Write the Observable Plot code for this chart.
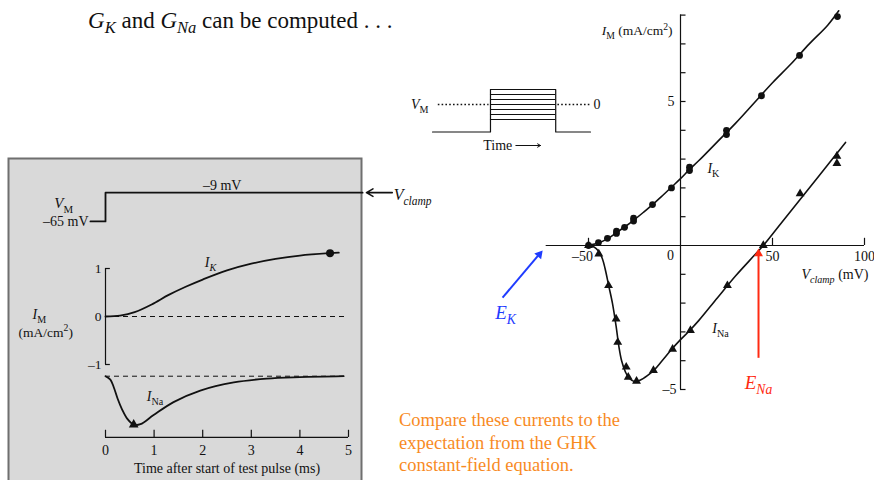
<!DOCTYPE html>
<html>
<head>
<meta charset="utf-8">
<script src="https://cdn.jsdelivr.net/npm/d3@7"></script>
<script src="https://cdn.jsdelivr.net/npm/@observablehq/plot@0.6"></script>
<style>
  html, body { margin: 0; padding: 0; background: #fff; }
  #page { position: relative; width: 874px; height: 480px; overflow: hidden; font-family: "Liberation Serif", serif; color: #111; }
  #page > * { position: absolute; }
  #page svg { overflow: visible; }
  .title { left: 88px; top: 9px; font-size: 23px; line-height: 23px; white-space: nowrap; }
  .caption { left: 399px; top: 409px; font-size: 18.5px; line-height: 22.5px; color: #f88b1f; white-space: nowrap; }
  sub { font-size: 0.72em; vertical-align: -0.28em; line-height: 0; }
</style>
</head>
<body>
<div id="page">
  <div class="title"><i>G</i><sub><i>K</i></sub> and <i>G</i><sub><i>Na</i></sub> can be computed . . .</div>
  <div class="caption">Compare these currents to the<br>expectation from the GHK<br>constant-field equation.</div>
</div>
<script>
// ---- Peak I–V relation under voltage clamp (mV, mA/cm²) ----
const kVoltage  = [-50, -44.6, -39.7, -34.8, -34.8, -30.4, -25.5, -25.5, -15.2, -4.9, 4.9, 4.9, 25, 25, 44, 64.7, 85.3];
const kCurrent  = [0, 0.1, 0.25, 0.42, 0.5, 0.63, 0.85, 0.95, 1.42, 2.0, 2.6, 2.72, 3.85, 4.0, 5.2, 6.6, 7.95];
const naVoltage = [-50, -44.4, -39.1, -35, -34.1, -29.5, -28.4, -23.9, -14.7, -4.3, 5.4, 25.5, 45, 65, 85, 85];
const naCurrent = [0, -0.29, -1.39, -2.55, -3.36, -4.22, -4.57, -4.71, -4.34, -3.6, -2.95, -1.39, 0, 1.8, 3.1, 2.85];

// smooth fitted curves through the measurements
const kFitVoltage  = [-51, -45, -40, -35, -30, -25, -20, -15, -10, -5, 0, 5, 10, 20, 30, 40, 50, 60, 70, 80, 86];
const kFitCurrent  = [0, 0.08, 0.22, 0.44, 0.66, 0.9, 1.16, 1.43, 1.72, 2.02, 2.32, 2.65, 2.95, 3.6, 4.25, 4.95, 5.65, 6.3, 7.0, 7.65, 8.15];
const naFitVoltage = [-51, -47, -44.5, -42.5, -41, -39, -37, -35, -33.5, -32, -30, -28, -25, -22, -18, -14, -10, -5, 0, 5, 10, 20, 30, 40, 45, 55, 65, 75, 89.7];
const naFitCurrent = [0, -0.05, -0.2, -0.45, -0.8, -1.4, -2.0, -2.8, -3.5, -4.0, -4.38, -4.6, -4.72, -4.68, -4.52, -4.3, -4.0, -3.62, -3.27, -2.95, -2.6, -1.82, -1.05, -0.35, 0, 0.8, 1.6, 2.4, 3.58];

const vTicks = [-50, 50, 100];
const iTicks = [-5, -4, -3, -2, -1, 1, 2, 3, 4, 5, 6, 7, 8];
const eK = -75, eNa = 42.4; // reversal potentials marked by arrows

// ---- Currents during a step to -9 mV (ms, mA/cm²) ----
const stepTime = [-0.31, 0, 0, 5.29];
const stepMv   = [-65, -65, -9, -9];
const ikTime    = [0, 0.3, 0.6, 0.95, 1.3, 1.65, 2.0, 2.5, 3.0, 3.5, 4.0, 4.62, 4.8];
const ikCurrent = [0, 0.02, 0.09, 0.25, 0.45, 0.62, 0.77, 0.96, 1.1, 1.2, 1.27, 1.32, 1.33];
const inaTime    = [0, 0.1, 0.17, 0.25, 0.34, 0.45, 0.58, 0.72, 0.99, 1.4, 1.95, 2.64, 3.32, 4.0, 4.9];
const inaCurrent = [0, -0.07, -0.23, -0.47, -0.69, -0.89, -1.01, -1.0, -0.81, -0.54, -0.3, -0.13, -0.05, -0.02, 0];
const timeTicks = [0, 1, 2, 3, 4, 5];
const currentTicks = [-1, 0, 1];

// ---- Clamp protocol sketch ----
const pulseLevels = [60, 40, 20, 0, -20, -40, -60];
const protocolTime = [0, 4, 4, 8.5, 8.5, 10.9];
const protocolLevel = [-110, -110, 60, 60, -110, -110];

const ink = "#111";
const dash = s => s.replace("-", "\u2013");
const zip = (xs, ys) => xs.map((x, i) => ({x, y: ys[i]}));

// Turns "*I*_{K}" style markup into italic / sub / superscript tspans.
function richText(root) {
  const ns = "http://www.w3.org/2000/svg";
  d3.select(root).selectAll("text").each(function () {
    const s = this.textContent;
    if (!/[_^*]/.test(s)) return;
    const fs = parseFloat(getComputedStyle(this).fontSize) || 14;
    this.textContent = "";
    const re = /([_^])\{([^}]*)\}|\*([^*]+)\*|([^_^*]+)/g;
    let shift = 0, m;
    while ((m = re.exec(s))) {
      const t = document.createElementNS(ns, "tspan");
      let content, target = 0, italic = false, small = false;
      if (m[1]) { small = true; target = m[1] === "_" ? 0.3 * fs : -0.4 * fs; content = m[2]; }
      else if (m[3]) { italic = true; content = m[3]; }
      else content = m[4];
      if (content.length > 2 && content[0] === "*" && content.endsWith("*")) { italic = true; content = content.slice(1, -1); }
      if (target !== shift) { t.setAttribute("dy", target - shift); shift = target; }
      if (small) t.setAttribute("font-size", (0.72 * fs).toFixed(1));
      if (italic) t.setAttribute("font-style", "italic");
      t.textContent = content;
      this.appendChild(t);
    }
  });
}

const page = document.getElementById("page");
function place(el, left, top) { el.style.left = left + "px"; el.style.top = top + "px"; page.appendChild(el); richText(el); }

// ---- Main I–V chart ----
const main = Plot.plot({
  width: 874, height: 480,
  marginLeft: 496, marginRight: 10, marginTop: 14.6, marginBottom: 91,
  x: {domain: [-100, 100], axis: null},
  y: {domain: [-5, 8], axis: null},
  style: {background: "transparent", fontFamily: "Liberation Serif, serif", fontSize: "14px", color: ink},
  marks: [
    Plot.ruleY([0], {x1: -73, x2: 100, stroke: ink, strokeWidth: 1.2}),
    Plot.ruleX(vTicks, {x: d => d, y1: 0, y2: 0.25, stroke: ink, strokeWidth: 1.2}),
    Plot.ruleX([0], {y1: -5, y2: 8, stroke: ink, strokeWidth: 1.2}),
    Plot.ruleY(iTicks, {y: d => d, x1: 0, x2: 3, stroke: ink, strokeWidth: 1.2}),
    Plot.text(vTicks.filter(d => d < 0), {x: d => d, y: 0, text: d => dash(String(d)), dy: 11, dx: -6, fill: ink}),
    Plot.text(vTicks.filter(d => d > 0), {x: d => d, y: 0, text: d => String(d), dy: 11, fill: ink}),
    Plot.text([0], {x: 0, y: 0, text: ["0"], dx: -10, dy: 10, fill: ink}),
    Plot.text([5], {x: 0, y: d => d, text: d => String(d), textAnchor: "end", dx: -6, fill: ink}),
    Plot.text([-5], {x: 0, y: d => d, text: d => dash(String(d)), textAnchor: "end", dx: -4, fill: ink}),
    Plot.text(["*I*_{M} (mA/cm^{2})"], {x: 0, y: 8, text: d => d, textAnchor: "end", dx: -8, dy: 16, fontSize: 13.5, fill: ink}),
    Plot.text(["*V*_{*clamp*} (mV)"], {x: 100, y: 0, text: d => d, textAnchor: "end", dx: 4, dy: 29, fontSize: 14, fill: ink}),
    Plot.line(zip(kFitVoltage, kFitCurrent), {x: "x", y: "y", curve: "catmull-rom", stroke: ink, strokeWidth: 1.6}),
    Plot.line(zip(naFitVoltage, naFitCurrent), {x: "x", y: "y", curve: "catmull-rom", stroke: ink, strokeWidth: 1.6}),
    Plot.dot(zip(kVoltage, kCurrent), {x: "x", y: "y", r: 3.4, fill: ink}),
    Plot.dot(zip(naVoltage, naCurrent), {x: "x", y: "y", r: 3.3, symbol: "triangle", fill: ink}),
    Plot.text(["*I*_{K}"], {x: 17.9, y: 2.67, text: d => d, fontSize: 14, fill: ink}),
    Plot.text(["*I*_{Na}"], {x: 21.7, y: -2.88, text: d => d, fontSize: 14, fill: ink}),
    // reversal potential annotations
    Plot.link([eK], {x1: -96.7, y1: -1.81, x2: d => d - 2.5, y2: -0.36, stroke: "#1f3cff", strokeWidth: 2}),
    Plot.dot([eK], {x: d => d - 1.7, y: -0.31, r: 3.3, symbol: "triangle", rotate: 40, fill: "#1f3cff"}),
    Plot.text(["*E*_{*K*}"], {x: -95.1, y: -2.33, text: d => d, fontSize: 19, fill: "#1f3cff"}),
    Plot.link([eNa], {x1: d => d, x2: d => d, y1: -3.9, y2: -0.35, stroke: "#ff2a12", strokeWidth: 2}),
    Plot.dot([eNa], {x: d => d, y: -0.28, r: 3.3, symbol: "triangle", fill: "#ff2a12"}),
    Plot.text(["*E*_{*Na*}"], {x: eNa, y: -4.76, text: d => d, fontSize: 19, fill: "#ff2a12"})
  ]
});
place(main, 0, 0);

// ---- Time course panel ----
const pxPerMs = 48.6, pxPerUnit = 48, t0px = 97, zeroPx = 158, frameW = 353, panelH = 325;
const naOffset = -1.244;          // baseline of the Na trace, in current units
const vLevel = v => 1.98 + (v + 65) * 0.6 / 56; // voltage trace placement
const axisY = -2.52;
const panel = Plot.plot({
  width: frameW + 90, height: panelH,
  marginLeft: 0, marginRight: 90, marginTop: 0, marginBottom: 0,
  x: {domain: [-t0px / pxPerMs, (frameW - t0px) / pxPerMs], axis: null},
  y: {domain: [(zeroPx - panelH) / pxPerUnit, zeroPx / pxPerUnit], axis: null},
  style: {background: "transparent", fontFamily: "Liberation Serif, serif", fontSize: "14px", color: ink},
  marks: [
    Plot.frame({fill: "#d9d9d9", stroke: "#6f6f6f", strokeWidth: 2}),
    // command voltage
    Plot.line(zip(stepTime, stepMv), {x: "x", y: d => vLevel(d.y), stroke: ink, strokeWidth: 1.8}),
    Plot.text([stepMv[3]], {x: 2.4, y: d => vLevel(d), text: d => dash(d + " mV"), dy: -7, fill: ink}),
    Plot.text([stepMv[0]], {x: -0.35, y: d => vLevel(d), text: d => dash(d + " mV"), textAnchor: "end", fill: ink}),
    Plot.text(["*V*_{M}"], {x: -0.86, y: 2.36, text: d => d, fontSize: 15, fill: ink}),
    Plot.arrow([0], {x1: 5.9, x2: 5.37, y1: vLevel(-9), y2: vLevel(-9), stroke: ink, strokeWidth: 1.6, headLength: 7}),
    Plot.text(["*V*_{*clamp*}"], {x: 5.93, y: vLevel(-9) - 0.05, text: d => d, textAnchor: "start", fontSize: 16, fill: ink}),
    // current axis
    Plot.ruleX([0], {y1: -1, y2: 1, stroke: ink, strokeWidth: 1.2}),
    Plot.ruleY([-1, 1], {y: d => d, x1: 0, x2: 0.1, stroke: ink, strokeWidth: 1.2}),
    Plot.text(currentTicks, {x: 0, y: d => d, text: d => dash(String(d)), textAnchor: "end", dx: -4, fontSize: 13.5, fill: ink}),
    Plot.text(["*I*_{M}"], {x: -1.36, y: 0.04, text: d => d, fontSize: 14, fill: ink}),
    Plot.text(["(mA/cm^{2})"], {x: -1.23, y: -0.33, text: d => d, fontSize: 13.5, fill: ink}),
    // zero-current baselines
    Plot.ruleY([0], {x1: 0, x2: 5, stroke: ink, strokeDasharray: "5,4", strokeWidth: 1}),
    Plot.ruleY([naOffset], {x1: 0, x2: 4.95, stroke: ink, strokeDasharray: "5,4", strokeWidth: 1}),
    // traces
    Plot.line(zip(ikTime, ikCurrent), {x: "x", y: "y", curve: "catmull-rom", stroke: ink, strokeWidth: 1.8}),
    Plot.dot([zip(ikTime, ikCurrent)[11]], {x: "x", y: "y", r: 4, fill: ink}),
    Plot.line(zip(inaTime, inaCurrent), {x: "x", y: d => d.y + naOffset, curve: "catmull-rom", stroke: ink, strokeWidth: 1.8}),
    Plot.dot([zip(inaTime, inaCurrent)[6]], {x: "x", y: d => d.y + naOffset, r: 3.6, symbol: "triangle", fill: ink}),
    Plot.text(["*I*_{*K*}"], {x: 2.16, y: 1.12, text: d => d, fontSize: 14, fill: ink}),
    Plot.text(["*I*_{Na}"], {x: 1.02, y: -1.66, text: d => d, fontSize: 14, fill: ink}),
    // time axis
    Plot.ruleY([axisY], {x1: 0, x2: 5, stroke: ink, strokeWidth: 1.2}),
    Plot.ruleX(timeTicks, {x: d => d, y1: axisY, y2: axisY + 0.15, stroke: ink, strokeWidth: 1.2}),
    Plot.text(timeTicks, {x: d => d, y: axisY, text: d => String(d), dy: 13, fontSize: 14, fill: ink}),
    Plot.text(["Time after start of test pulse (ms)"], {x: 2.5, y: axisY, text: d => d, dy: 31, fontSize: 14, fill: ink})
  ]
});
place(panel, 8, 158);

// ---- Voltage-clamp protocol sketch ----
const inset = Plot.plot({
  width: 230, height: 90,
  marginLeft: 52, marginRight: 20, marginTop: 19, marginBottom: 28.5,
  x: {domain: [0, 10.9], axis: null},
  y: {domain: [-110, 60], axis: null},
  style: {background: "transparent", fontFamily: "Liberation Serif, serif", fontSize: "14px", color: ink},
  marks: [
    Plot.line(zip(protocolTime, protocolLevel), {x: "x", y: "y", stroke: ink, strokeWidth: 1.2}),
    Plot.ruleY(pulseLevels, {y: d => d, x1: 4, x2: 8.5, stroke: ink, strokeWidth: 1}),
    Plot.ruleY([0], {x1: 0.4, x2: 3.9, stroke: ink, strokeWidth: 1.6, strokeDasharray: "1.6,2.2"}),
    Plot.ruleY([0], {x1: 8.65, x2: 10.9, stroke: ink, strokeWidth: 1.6, strokeDasharray: "1.6,2.2"}),
    Plot.text(["*V*_{M}"], {x: 0, y: 0, text: d => d, textAnchor: "end", dx: -4, fontSize: 14, fill: ink}),
    Plot.text(["0"], {x: 10.9, y: 0, text: d => d, textAnchor: "start", dx: 3, fontSize: 14, fill: ink}),
    Plot.text(["Time"], {x: 4.5, y: -164, text: d => d, fontSize: 14, fill: ink}),
    Plot.arrow([0], {x1: 5.75, x2: 7.45, y1: -164, y2: -164, stroke: ink, strokeWidth: 1, headLength: 5})
  ]
});
place(inset, 380, 70);
</script>
</body>
</html>
